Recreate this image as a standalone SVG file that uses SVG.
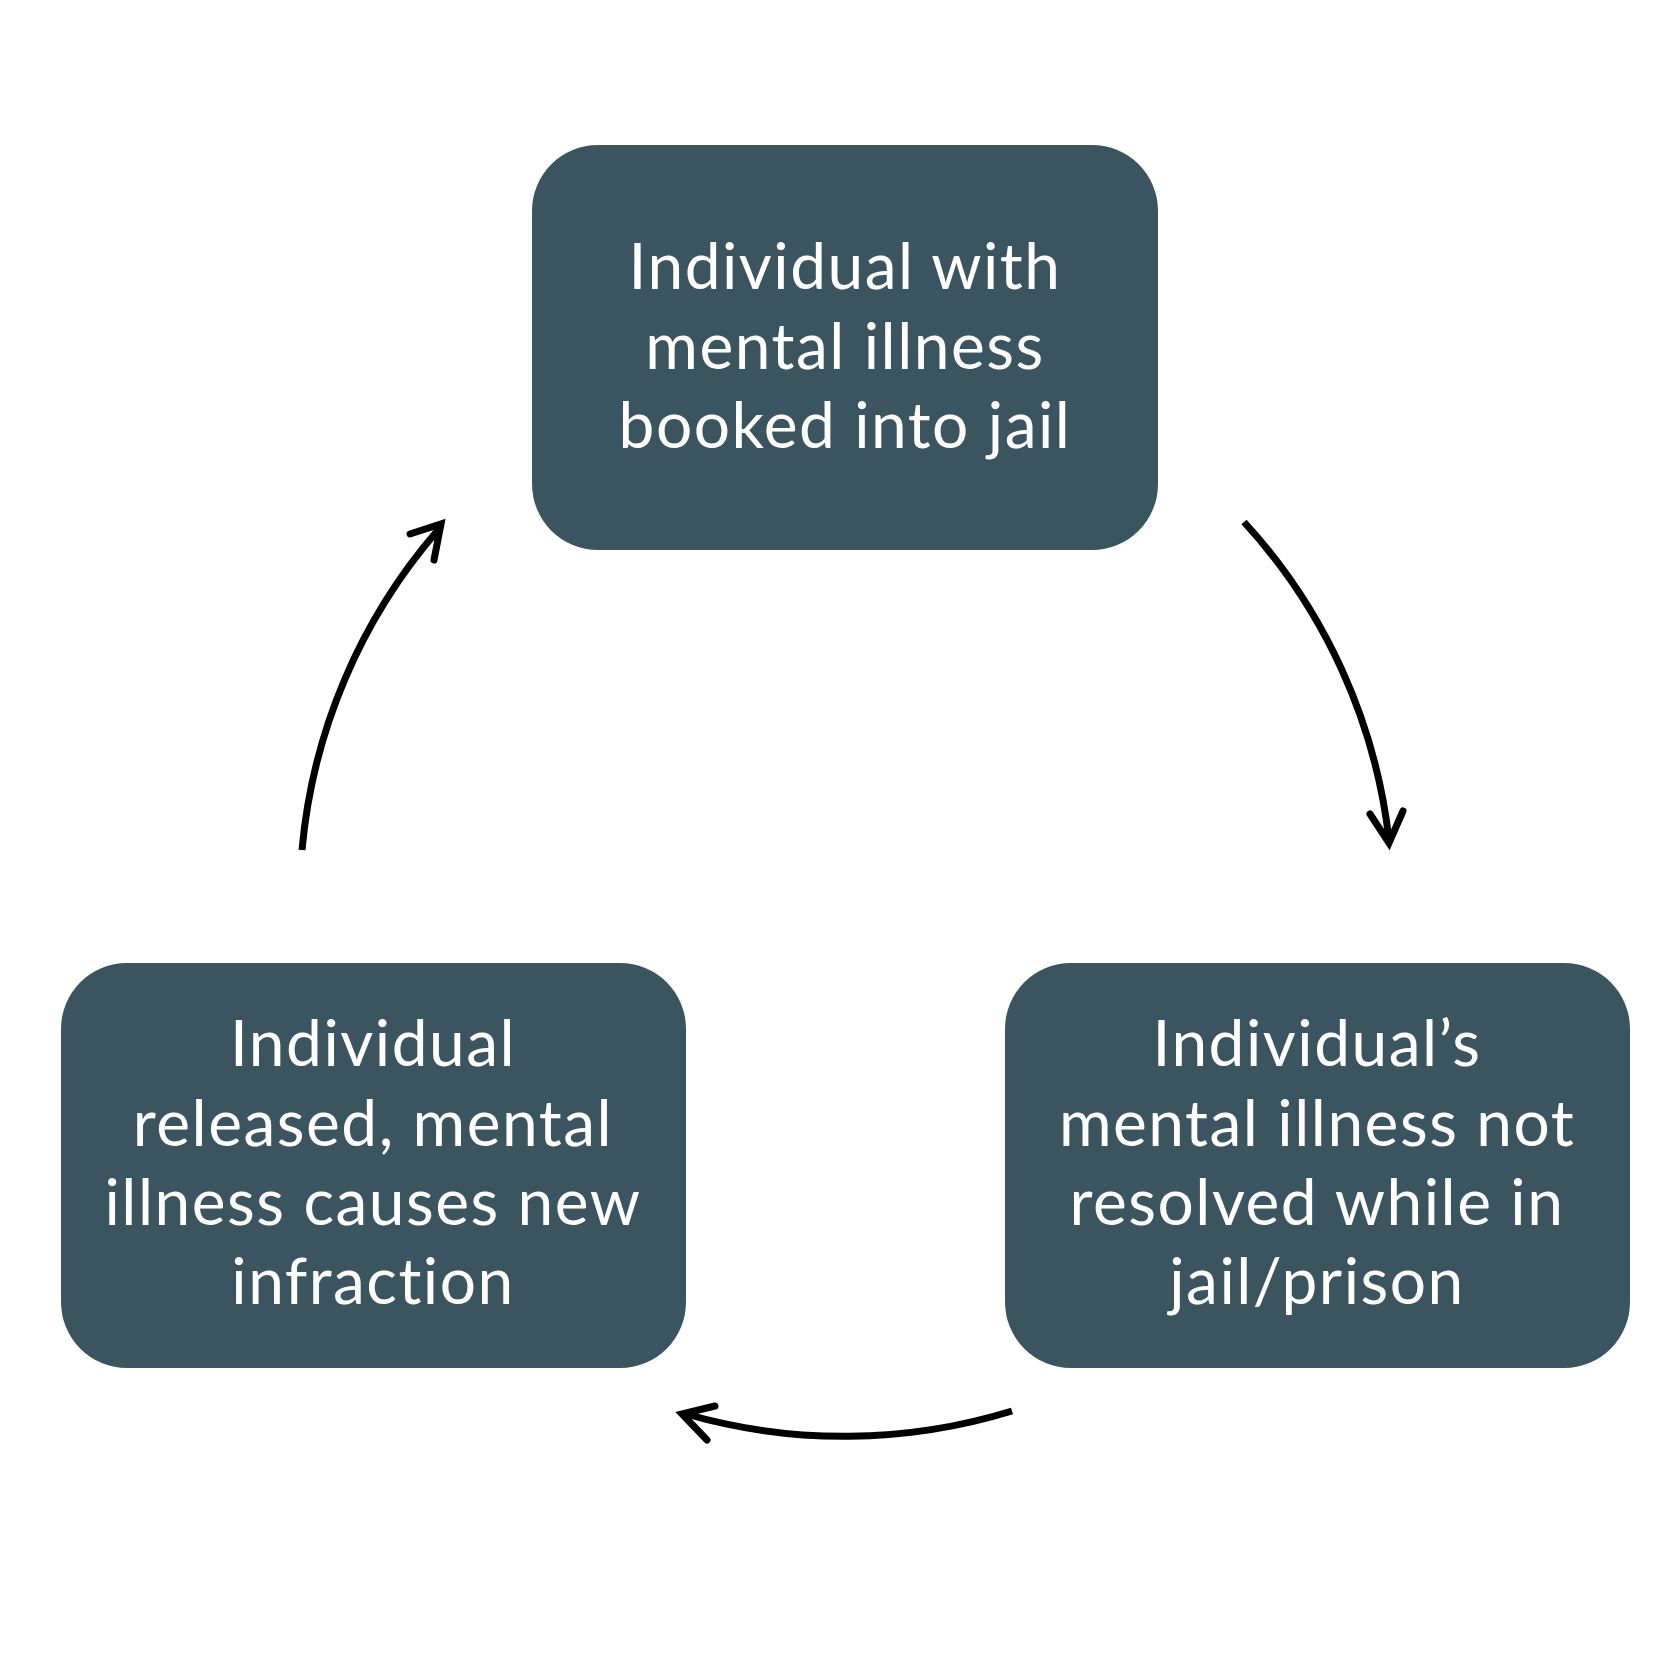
<svg xmlns="http://www.w3.org/2000/svg" width="1680" height="1680" viewBox="0 0 1680 1680">
<style>
.box{fill:#3a5560}
.t{font-family:Lato,"Open Sans","Liberation Sans",sans-serif;font-size:64px;letter-spacing:1.5px;font-variant-ligatures:none;fill:#ffffff;text-anchor:middle}
.c{fill:none;stroke:#000;stroke-width:7;stroke-linecap:butt}
.h{fill:none;stroke:#000;stroke-width:7;stroke-linecap:round;stroke-linejoin:miter}
</style>
<rect width="1680" height="1680" fill="#ffffff"/>
<g id="node-top">
<rect class="box" x="532" y="145" width="626" height="405" rx="66" ry="66"/>
<text class="t" x="845" y="289">Individual with</text>
<text class="t" x="845" y="369">mental illness</text>
<text class="t" x="845" y="448">booked into jail</text>
</g>
<g id="node-right">
<rect class="box" x="1005" y="963" width="625" height="405" rx="66" ry="66"/>
<text class="t" x="1317" y="1066">Individual’s</text>
<text class="t" x="1317" y="1146">mental illness not</text>
<text class="t" x="1317" y="1225">resolved while in</text>
<text class="t" x="1317" y="1304">jail/prison</text>
</g>
<g id="node-left">
<rect class="box" x="61" y="963" width="625" height="405" rx="66" ry="66"/>
<text class="t" x="373" y="1066">Individual</text>
<text class="t" x="373" y="1146">released, mental</text>
<text class="t" x="373" y="1225">illness causes new</text>
<text class="t" x="373" y="1304">infraction</text>
</g>
<g id="connectors">
<path class="c" d="M1244,522 A565,565 0 0 1 1389,840"/>
<path class="h" d="M1370,814 L1389,843 L1403,811"/>
<path class="c" d="M1012,1411 A570,570 0 0 1 686,1414"/>
<path class="h" d="M715,1406 L682,1414 L707,1440"/>
<path class="c" d="M302,850 A565,565 0 0 1 438,530"/>
<path class="h" d="M410,534 L441,524 L434,560"/>
</g>
</svg>
